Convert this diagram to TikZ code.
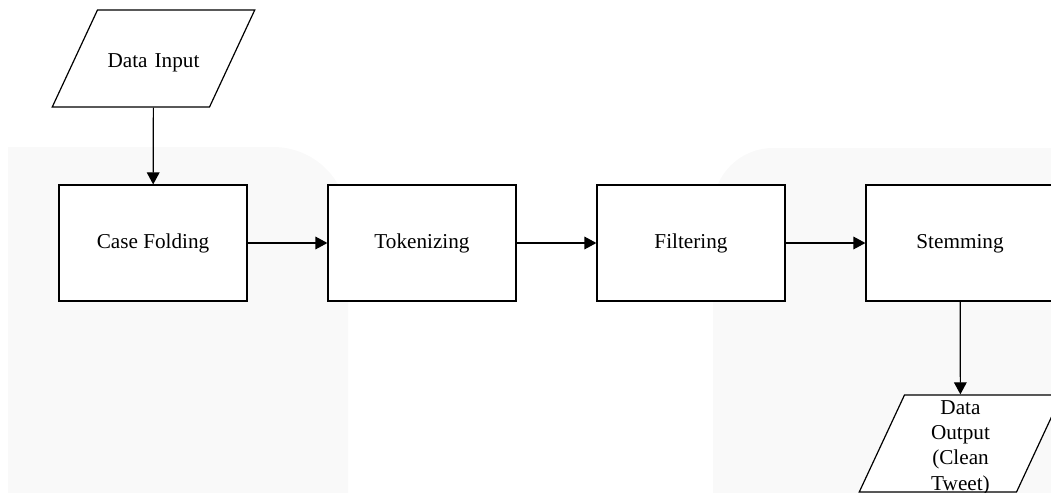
\documentclass[tikz,border=0pt]{standalone}
\usepackage{fontspec}
\setmainfont{Liberation Serif}
\usetikzlibrary{shapes.geometric, arrows.meta}

\definecolor{panelgray}{HTML}{F9F9F9}
\tikzset{
  txt/.style={font=\fontsize{15.9}{19}\selectfont},
  proc/.style={draw, fill=white, line width=0.9pt, minimum width=141pt, minimum height=87pt,
    inner sep=0pt, text height=1em, text depth=0.25em, txt},
  io/.style={draw, fill=white, trapezium, trapezium left angle=65, trapezium right angle=115,
    inner sep=0pt, text width=84pt, align=center, text height=42.8pt, text depth=30pt,
    line width=0.9pt, txt},
  flow/.style={line width=0.9pt, -{Triangle[length=9pt,width=9.5pt]}}
}

\begin{document}
\begin{tikzpicture}[x=0.75pt, y=-0.75pt]
  \useasboundingbox (0,0) rectangle (1051,493);

  % faint panels behind the flow
  \fill[panelgray] (8,800) -- (8,147) -- (200,147) [rounded corners=56pt] -- (348,147) -- (348,800) [sharp corners] -- cycle;
  \fill[panelgray] (713,800) [rounded corners=45pt] -- (713,148) -- (1300,148) [sharp corners] -- (1300,800) -- cycle;

  \node[io] (din) at (153.5,58.5) {Data Input};

  \node[proc] (fold) at (153,243) {Case Folding};
  \node[proc] (token) at (422,243) {Tokenizing};
  \node[proc] (filter) at (691,243) {Filtering};
  \node[proc] (stem) at (960,243) {Stemming};

  \node[io] (dout) at (960.5,443.5) {\phantom{D}};
  \node[txt, align=center, inner sep=0pt] (douttext) at ([yshift=-3pt]dout.center) {Data\\Output\\(Clean\\Tweet)};

  \draw[flow] (din) -- (fold);
  \draw[flow] (fold) -- (token);
  \draw[flow] (token) -- (filter);
  \draw[flow] (filter) -- (stem);
  \draw[flow] (stem) -- (dout);
\end{tikzpicture}
\end{document}
